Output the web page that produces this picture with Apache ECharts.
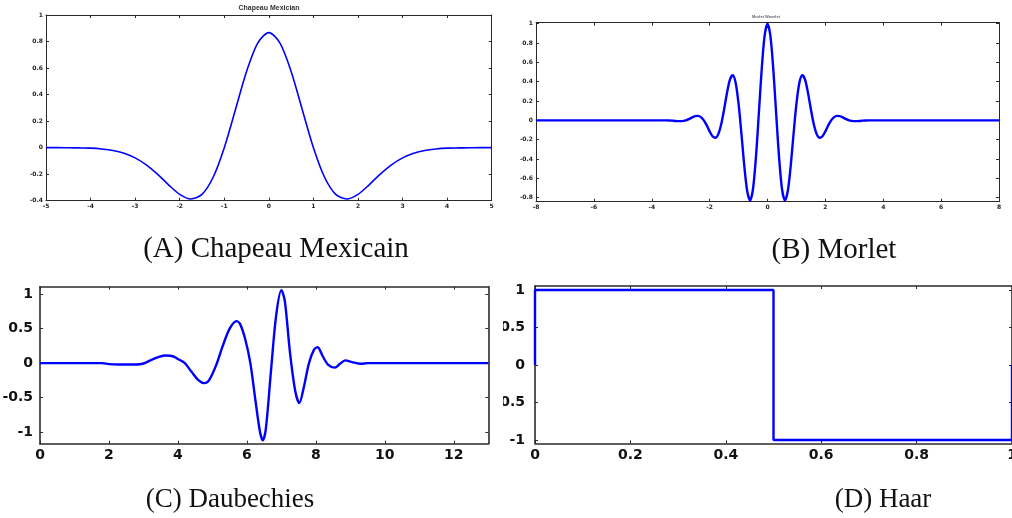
<!DOCTYPE html>
<html>
<head>
<meta charset="utf-8">
<script src="https://cdn.jsdelivr.net/npm/echarts@6/dist/echarts.min.js"></script>
<style>
  html, body { margin: 0; padding: 0; background: #fff; }
  #c { width: 1012px; height: 518px; }
</style>
</head>
<body>
<div id="c"></div>
<script>
// (A) Chapeau Mexicain – sampled wavelet values
const hatT = [-5, -4.75, -4.5, -4.25, -4, -3.75, -3.5, -3.25, -3, -2.75, -2.5, -2.25, -2, -1.75, -1.5, -1.25, -1, -0.75, -0.5, -0.25,
  0, 0.25, 0.5, 0.75, 1, 1.25, 1.5, 1.75, 2, 2.25, 2.5, 2.75, 3, 3.25, 3.5, 3.75, 4, 4.25, 4.5, 4.75, 5];
const hatPsi = [0.000, 0.000, -0.001, -0.002, -0.004, -0.010, -0.021, -0.042, -0.077, -0.130, -0.200, -0.280, -0.352, -0.387, -0.352, -0.223, 0.000, 0.286, 0.574, 0.788,
  0.867, 0.788, 0.574, 0.286, 0.000, -0.223, -0.352, -0.387, -0.352, -0.280, -0.200, -0.130, -0.077, -0.042, -0.021, -0.010, -0.004, -0.002, -0.001, 0.000, 0.000];
const hatXTicks = [-5, -4, -3, -2, -1, 0, 1, 2, 3, 4, 5];
const hatYTicks = [-0.4, -0.2, 0, 0.2, 0.4, 0.6, 0.8, 1];

// (B) Morlet
const morletT = [-8, -3.5, -3.4, -3.3, -3.2, -3.1, -3.0, -2.9, -2.8, -2.7, -2.6, -2.5, -2.4, -2.3, -2.2, -2.1, -2.0, -1.9, -1.8, -1.7, -1.6,
  -1.5, -1.4, -1.3, -1.2, -1.1, -1.0, -0.9, -0.8, -0.7, -0.6, -0.5, -0.4, -0.3, -0.2, -0.1,
  0, 0.1, 0.2, 0.3, 0.4, 0.5, 0.6, 0.7, 0.8, 0.9, 1.0, 1.1, 1.2, 1.3, 1.4, 1.5, 1.6, 1.7, 1.8, 1.9, 2.0,
  2.1, 2.2, 2.3, 2.4, 2.5, 2.6, 2.7, 2.8, 2.9, 3.0, 3.1, 3.2, 3.3, 3.4, 3.5, 8];
const morletPsi = [0, 0.000, -0.001, -0.003, -0.006, -0.008, -0.008, -0.005, 0.003, 0.015, 0.031, 0.044, 0.047, 0.034, 0.000, -0.052, -0.114, -0.164, -0.180, -0.142, -0.040,
  0.113, 0.283, 0.420, 0.467, 0.387, 0.172, -0.141, -0.475, -0.733, -0.827, -0.707, -0.384, 0.068, 0.530, 0.873,
  1.000, 0.873, 0.530, 0.068, -0.384, -0.707, -0.827, -0.733, -0.475, -0.141, 0.172, 0.387, 0.467, 0.420, 0.283, 0.113, -0.040, -0.142, -0.180, -0.164, -0.114,
  -0.052, 0.000, 0.034, 0.047, 0.044, 0.031, 0.015, 0.003, -0.005, -0.008, -0.008, -0.006, -0.003, -0.001, 0.000, 0];
const morletXTicks = [-8, -6, -4, -2, 0, 2, 4, 6, 8];
const morletYTicks = [-0.8, -0.6, -0.4, -0.2, 0, 0.2, 0.4, 0.6, 0.8, 1];

// (C) Daubechies
const dbT = [0, 1.8, 2.0, 2.3, 2.8, 3.0, 3.2, 3.45, 3.65, 3.85, 4.0, 4.2, 4.4, 4.6, 4.76, 4.9, 5.1, 5.3, 5.5, 5.7, 5.8, 5.95,
  6.1, 6.25, 6.38, 6.46, 6.55, 6.7, 6.85, 7.0, 7.1, 7.25, 7.4, 7.52, 7.65, 7.8, 7.95, 8.05, 8.2, 8.35, 8.55, 8.7, 8.85, 9.05, 9.3, 9.5, 13];
const dbPsi = [0, 0, -0.015, -0.02, -0.02, -0.005, 0.04, 0.09, 0.11, 0.10, 0.06, 0.0, -0.13, -0.25, -0.29, -0.25, -0.04, 0.25, 0.5, 0.61, 0.57, 0.35,
  0.0, -0.55, -1.0, -1.12, -0.95, -0.1, 0.7, 1.06, 0.9, 0.15, -0.4, -0.58, -0.35, 0.0, 0.2, 0.23, 0.1, -0.02, -0.065, -0.01, 0.04, 0.015, -0.01, 0.0, 0];
const dbXTicks = [0, 2, 4, 6, 8, 10, 12];
const dbYTicks = [-1, -0.5, 0, 0.5, 1];

// (D) Haar
const haarT = [0, 0, 0.5, 0.5, 1, 1];
const haarPsi = [0, 1, 1, -1, -1, 0];
const haarXTicks = [0, 0.2, 0.4, 0.6, 0.8, 1];
const haarYTicks = [-1, -0.5, 0, 0.5, 1];

const captions = ['(A) Chapeau Mexicain', '(B) Morlet', '(C) Daubechies', '(D) Haar'];

const pairs = (xs, ys) => xs.map((x, i) => [x, ys[i]]);

const smallStyle = { line: '#2a2a2a', lineWidth: 1, tickLen: 3, font: 'DejaVu Sans', size: 6, color: '#222', xMargin: 3, yMargin: 3 };
const bigStyle = { line: '#2b2b2b', lineWidth: 1.6, tickLen: 3, font: 'DejaVu Sans', size: 14, color: '#111', xMargin: 5, yMargin: 7 };

function axis(gridIndex, position, min, max, ticks, st, showLabel, margin) {
  return {
    type: 'value', gridIndex, position, min, max,
    axisLine: { show: true, onZero: false, lineStyle: { color: st.line, width: st.lineWidth } },
    axisTick: { show: true, inside: true, length: st.tickLen, customValues: ticks, lineStyle: { color: st.line, width: 1 } },
    axisLabel: {
      show: showLabel, customValues: ticks, margin: margin,
      fontFamily: st.font, fontWeight: 'bold', fontSize: st.size, color: st.color
    },
    splitLine: { show: false }
  };
}

const panels = [
  { grid: { left: 46, top: 15, width: 445.7, height: 185.7 }, xr: [-5, 5], yr: [-0.4, 1], xt: hatXTicks, yt: hatYTicks, st: smallStyle, data: pairs(hatT, hatPsi), w: 1.6, smooth: 0.3 },
  { grid: { left: 536, top: 22.7, width: 463, height: 179 }, xr: [-8, 8], yr: [-0.841, 1.01], xt: morletXTicks, yt: morletYTicks, st: smallStyle, data: pairs(morletT, morletPsi), w: 2.4, smooth: 0.3 },
  { grid: { left: 40, top: 286.7, width: 448.3, height: 157 }, xr: [0, 13], yr: [-1.17, 1.11], xt: dbXTicks, yt: dbYTicks, st: bigStyle, data: pairs(dbT, dbPsi), w: 2.4, smooth: 0.3, ym: 7 },
  { grid: { left: 535, top: 286, width: 477, height: 157.3 }, xr: [0, 1], yr: [-1.045, 1.053], xt: haarXTicks, yt: haarYTicks, st: bigStyle, data: pairs(haarT, haarPsi), w: 2.4, smooth: false, ym: 10 }
];

const grid = [], xAxis = [], yAxis = [], series = [];
panels.forEach((p, i) => {
  grid.push(Object.assign({ containLabel: false, outerBoundsMode: 'none' }, p.grid));
  const ym = p.ym !== undefined ? p.ym : p.st.yMargin;
  xAxis.push(axis(i, 'bottom', p.xr[0], p.xr[1], p.xt, p.st, true, p.st.xMargin));
  xAxis.push(axis(i, 'top', p.xr[0], p.xr[1], p.xt, p.st, false, 0));
  yAxis.push(axis(i, 'left', p.yr[0], p.yr[1], p.yt, p.st, true, ym));
  yAxis.push(axis(i, 'right', p.yr[0], p.yr[1], p.yt, p.st, false, 0));
  series.push({
    type: 'line', xAxisIndex: 2 * i, yAxisIndex: 2 * i, data: p.data,
    showSymbol: false, smooth: p.smooth, silent: true,
    lineStyle: { color: '#0000ff', width: p.w }, z: 3
  });
});

const serif = 'Liberation Serif, Times New Roman, serif';
const chart = echarts.init(document.getElementById('c'), null, { renderer: 'canvas' });
chart.setOption({
  animation: false,
  backgroundColor: '#ffffff',
  grid, xAxis, yAxis, series,
  graphic: [
    // panel titles
    { type: 'text', z: 10, position: [269, 8], style: { text: 'Chapeau Mexician', align: 'center', verticalAlign: 'middle', font: 'bold 7px Liberation Sans', fill: '#333' } },
    { type: 'text', z: 10, position: [766, 16.5], style: { text: 'Morlet Wavelet', align: 'center', verticalAlign: 'middle', font: 'bold 4px Liberation Sans', fill: '#666' } },
    // left edge of the Haar panel is trimmed
    { type: 'rect', z: 20, shape: { x: 490, y: 280, width: 13, height: 180 }, style: { fill: '#ffffff' } },
    // captions
    { type: 'text', z: 10, position: [276, 249], style: { text: captions[0], align: 'center', verticalAlign: 'middle', font: '29px ' + serif, fill: '#111' } },
    { type: 'text', z: 10, position: [834, 250], style: { text: captions[1], align: 'center', verticalAlign: 'middle', font: '29px ' + serif, fill: '#111' } },
    { type: 'text', z: 10, position: [230, 500], style: { text: captions[2], align: 'center', verticalAlign: 'middle', font: '27px ' + serif, fill: '#111' } },
    { type: 'text', z: 10, position: [883, 500], style: { text: captions[3], align: 'center', verticalAlign: 'middle', font: '27px ' + serif, fill: '#111' } }
  ]
});
</script>
</body>
</html>
